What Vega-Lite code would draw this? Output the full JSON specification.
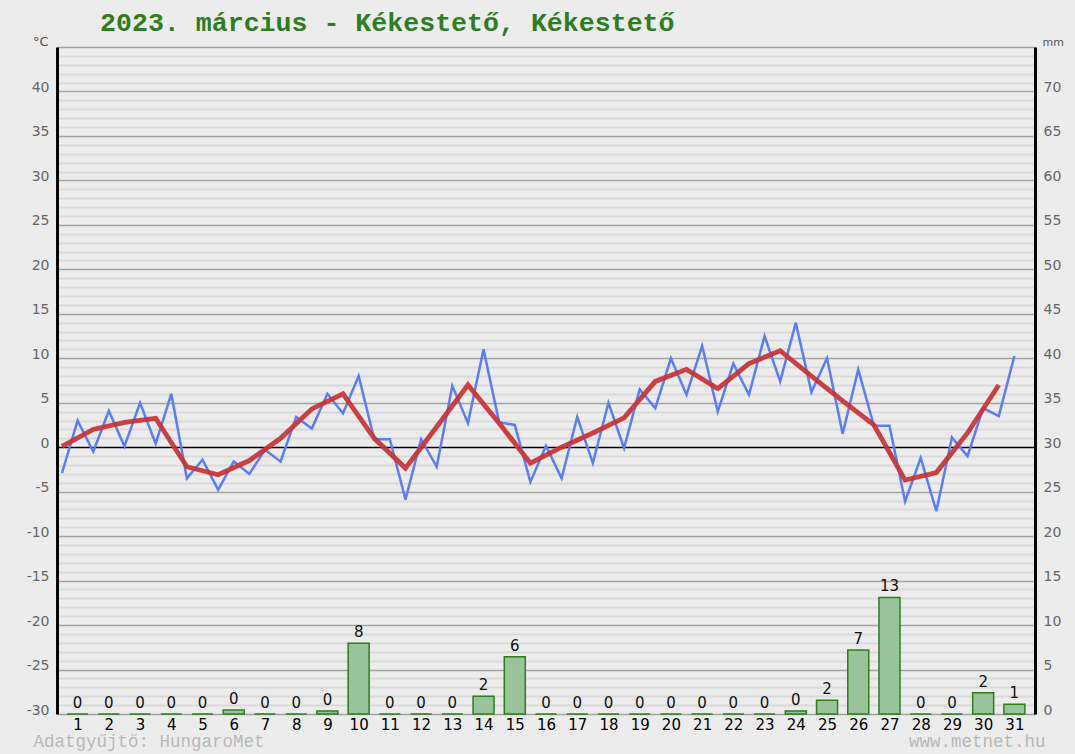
{
  "$schema": "https://vega.github.io/schema/vega-lite/v6.json",
  "width": 978,
  "height": 667,
  "autosize": {"type": "none"},
  "padding": {"left": 57, "top": 47, "right": 40, "bottom": 40},
  "background": "#ececec",
  "config": {"view": {"stroke": null, "fill": "#ececec"}, "font": "DejaVu Sans"},
  "title": {"text": "2023. március - Kékestető, Kékestető", "anchor": "start", "frame": "group", "dx": 43, "dy": 25, "offset": 2, "baseline": "alphabetic", "font": "Liberation Mono", "fontSize": 26.6, "fontWeight": "bold", "color": "#2e7d1f"},
  "datasets": {
    "temp": [
      {"t": 0.5, "temp": -2.9}, {"t": 1.0, "temp": 3.0}, {"t": 1.5, "temp": -0.5}, {"t": 2.0, "temp": 4.1},
      {"t": 2.5, "temp": 0.1}, {"t": 3.0, "temp": 5.0}, {"t": 3.5, "temp": 0.4}, {"t": 4.0, "temp": 6.0},
      {"t": 4.5, "temp": -3.5}, {"t": 5.0, "temp": -1.4}, {"t": 5.5, "temp": -4.8}, {"t": 6.0, "temp": -1.6},
      {"t": 6.5, "temp": -3.0}, {"t": 7.0, "temp": -0.3}, {"t": 7.5, "temp": -1.6}, {"t": 8.0, "temp": 3.4},
      {"t": 8.5, "temp": 2.1}, {"t": 9.0, "temp": 6.0}, {"t": 9.5, "temp": 3.8}, {"t": 10.0, "temp": 8.0},
      {"t": 10.5, "temp": 0.9}, {"t": 11.0, "temp": 0.9}, {"t": 11.5, "temp": -5.9}, {"t": 12.0, "temp": 0.9},
      {"t": 12.5, "temp": -2.2}, {"t": 13.0, "temp": 6.9}, {"t": 13.5, "temp": 2.7}, {"t": 14.0, "temp": 11.0},
      {"t": 14.5, "temp": 2.8}, {"t": 15.0, "temp": 2.5}, {"t": 15.5, "temp": -3.9}, {"t": 16.0, "temp": 0.15},
      {"t": 16.5, "temp": -3.5}, {"t": 17.0, "temp": 3.4}, {"t": 17.5, "temp": -1.8}, {"t": 18.0, "temp": 5.0},
      {"t": 18.5, "temp": -0.1}, {"t": 19.0, "temp": 6.5}, {"t": 19.5, "temp": 4.4}, {"t": 20.0, "temp": 10.0},
      {"t": 20.5, "temp": 5.9}, {"t": 21.0, "temp": 11.4}, {"t": 21.5, "temp": 4.0}, {"t": 22.0, "temp": 9.4},
      {"t": 22.5, "temp": 5.9}, {"t": 23.0, "temp": 12.5}, {"t": 23.5, "temp": 7.4}, {"t": 24.0, "temp": 14.0},
      {"t": 24.5, "temp": 6.2}, {"t": 25.0, "temp": 10.0}, {"t": 25.5, "temp": 1.5}, {"t": 26.0, "temp": 8.75},
      {"t": 26.5, "temp": 2.4}, {"t": 27.0, "temp": 2.4}, {"t": 27.5, "temp": -6.1}, {"t": 28.0, "temp": -1.2},
      {"t": 28.5, "temp": -7.2}, {"t": 29.0, "temp": 1.1}, {"t": 29.5, "temp": -1.0}, {"t": 30.0, "temp": 4.4},
      {"t": 30.5, "temp": 3.5}, {"t": 31.0, "temp": 10.25}
    ],
    "mean": [
      {"t": 0.5, "mean": 0.1}, {"t": 1.5, "mean": 2.0}, {"t": 2.5, "mean": 2.8}, {"t": 3.5, "mean": 3.25},
      {"t": 4.5, "mean": -2.2}, {"t": 5.5, "mean": -3.1}, {"t": 6.5, "mean": -1.5}, {"t": 7.5, "mean": 1.0},
      {"t": 8.5, "mean": 4.3}, {"t": 9.5, "mean": 6.0}, {"t": 10.5, "mean": 1.0}, {"t": 11.5, "mean": -2.35},
      {"t": 12.5, "mean": 2.3}, {"t": 13.5, "mean": 7.0}, {"t": 14.5, "mean": 2.7}, {"t": 15.5, "mean": -1.8},
      {"t": 16.5, "mean": 0.0}, {"t": 17.5, "mean": 1.6}, {"t": 18.5, "mean": 3.3}, {"t": 19.5, "mean": 7.4},
      {"t": 20.5, "mean": 8.75}, {"t": 21.5, "mean": 6.6}, {"t": 22.5, "mean": 9.4}, {"t": 23.5, "mean": 10.85},
      {"t": 24.5, "mean": 8.0}, {"t": 25.5, "mean": 5.2}, {"t": 26.5, "mean": 2.5}, {"t": 27.5, "mean": -3.7},
      {"t": 28.5, "mean": -2.85}, {"t": 29.5, "mean": 1.6}, {"t": 30.5, "mean": 7.0}
    ],
    "precip": [
      {"day": 1, "mm": 0}, {"day": 2, "mm": 0}, {"day": 3, "mm": 0}, {"day": 4, "mm": 0},
      {"day": 5, "mm": 0}, {"day": 6, "mm": 0.45}, {"day": 7, "mm": 0}, {"day": 8, "mm": 0},
      {"day": 9, "mm": 0.35}, {"day": 10, "mm": 7.95}, {"day": 11, "mm": 0}, {"day": 12, "mm": 0},
      {"day": 13, "mm": 0}, {"day": 14, "mm": 2.0}, {"day": 15, "mm": 6.45}, {"day": 16, "mm": 0},
      {"day": 17, "mm": 0}, {"day": 18, "mm": 0}, {"day": 19, "mm": 0}, {"day": 20, "mm": 0},
      {"day": 21, "mm": 0}, {"day": 22, "mm": 0}, {"day": 23, "mm": 0}, {"day": 24, "mm": 0.35},
      {"day": 25, "mm": 1.55}, {"day": 26, "mm": 7.2}, {"day": 27, "mm": 13.1}, {"day": 28, "mm": 0},
      {"day": 29, "mm": 0}, {"day": 30, "mm": 2.4}, {"day": 31, "mm": 1.1}
    ]
  },
  "layer": [
    {
      "layer": [
        {
          "data": {"name": "temp"},
          "mark": {"type": "line", "color": "#5b7cff", "strokeWidth": 2.5},
          "encoding": {
            "x": {"field": "t", "type": "quantitative",
              "scale": {"domain": [0.5, 31.5], "nice": false, "zero": false},
              "axis": {"orient": "top", "labels": false, "ticks": false, "domain": false, "grid": false,
                "title": "www.metnet.hu", "titleX": 988, "titleY": 699, "titleAlign": "right", "titleBaseline": "alphabetic",
                "titleFont": "Liberation Mono", "titleFontSize": 17.5, "titleFontWeight": "normal", "titleColor": "#b8b8b8"}},
            "y": {"field": "temp", "type": "quantitative",
              "scale": {"domain": [-30, 45], "nice": false, "zero": false},
              "axis": {"orient": "left", "tickCount": 75, "grid": true,
                "gridColor": {"condition": [{"test": "datum.value === 0", "value": "#000000"}, {"test": "datum.value % 5 === 0", "value": "#a3a3a3"}], "value": "#dadada"},
                "gridWidth": {"condition": {"test": "datum.value % 5 === 0", "value": 1.5}, "value": 2},
                "labelExpr": "datum.value % 5 === 0 && datum.value < 45 ? '' + datum.value : ''",
                "ticks": false, "domain": true, "domainColor": "#000000", "domainWidth": 3,
                "labelColor": "#666666", "labelFont": "DejaVu Sans", "labelFontSize": 14, "labelBaseline": "alphabetic", "labelPadding": 8,
                "title": "°C", "titleAngle": 0, "titleX": -9, "titleY": -2, "titleAlign": "right", "titleBaseline": "alphabetic",
                "titleFont": "DejaVu Sans", "titleFontSize": 13, "titleFontWeight": "normal", "titleColor": "#555555"}}
          }
        },
        {
          "data": {"name": "mean"},
          "mark": {"type": "line", "color": "#c83232", "strokeWidth": 4.8, "opacity": 0.92},
          "encoding": {
            "x": {"field": "t", "type": "quantitative"},
            "y": {"field": "mean", "type": "quantitative"}
          }
        }
      ]
    },
    {
      "data": {"name": "precip"},
      "encoding": {
        "x": {"field": "day", "type": "quantitative",
          "axis": {"orient": "bottom", "values": [1,2,3,4,5,6,7,8,9,10,11,12,13,14,15,16,17,18,19,20,21,22,23,24,25,26,27,28,29,30,31],
            "grid": false, "ticks": false, "domain": false, "labelFont": "DejaVu Sans", "labelFontSize": 15, "labelColor": "#000000",
            "labelPadding": 3, "labelOverlap": false, "labelSeparation": 0, "labelFlush": false, "labelBound": false,
            "title": "Adatgyűjtő: HungaroMet", "titleX": -24, "titleY": 32, "titleAlign": "left", "titleBaseline": "alphabetic",
            "titleFont": "Liberation Mono", "titleFontSize": 17.5, "titleFontWeight": "normal", "titleColor": "#b8b8b8"}},
        "y": {"field": "mm", "type": "quantitative",
          "scale": {"domain": [0, 75], "nice": false, "zero": true},
          "axis": {"orient": "right", "tickCount": 15, "grid": false, "ticks": false, "domain": true, "domainColor": "#000000", "domainWidth": 3,
            "labelExpr": "datum.value < 75 ? datum.label : ''",
            "labelColor": "#666666", "labelFont": "DejaVu Sans", "labelFontSize": 14, "labelBaseline": "alphabetic", "labelPadding": 8,
            "title": "mm", "titleAngle": 0, "titleX": 7, "titleY": -2, "titleAlign": "left", "titleBaseline": "alphabetic",
            "titleFont": "DejaVu Sans", "titleFontSize": 11, "titleFontWeight": "normal", "titleColor": "#555555"}}
      },
      "layer": [
        {"mark": {"type": "bar", "width": 21, "fill": "#99c39b", "stroke": "#2e7d1a", "strokeWidth": 1.5}},
        {"mark": {"type": "text", "dy": -6, "baseline": "alphabetic", "font": "DejaVu Sans", "fontSize": 15, "color": "#111111"},
          "encoding": {"text": {"field": "mm", "type": "quantitative", "format": ".0f"}}}
      ]
    }
  ],
  "resolve": {"scale": {"y": "independent"}, "axis": {"x": "independent"}}
}
